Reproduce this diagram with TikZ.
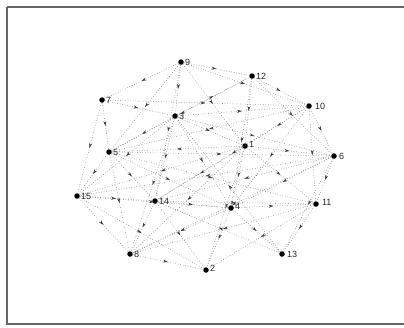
\documentclass[tikz,border=0pt]{standalone}
\usepackage{fontspec}
\setmainfont{Liberation Sans}
\usetikzlibrary{decorations.markings,arrows.meta}
\begin{document}
\begin{tikzpicture}[x=1pt,y=-1pt,
  vtx/.style={circle,fill=black,inner sep=0pt,minimum size=5.5pt},
  lbl/.style={font=\fontsize{9}{10}\selectfont,text=black!85,inner sep=1pt,anchor=west},
  edge/.style={draw=black!55,dotted,line width=0.55pt,
    postaction={decorate,decoration={markings,mark=at position 0.5 with {\arrow[black!75]{Stealth[length=5pt,width=3pt]}}}}}]
\useasboundingbox (0,0) rectangle (404,327);
\draw[black!60,line width=1.2pt] (7,7) -- (7,324) -- (404,324);
\draw[black!60,line width=1.2pt] (7,7) -- (404,7);
\node[vtx] (n9) at (181,62) {};
\node[vtx] (n12) at (252,76) {};
\node[vtx] (n7) at (102,100) {};
\node[vtx] (n10) at (309,106) {};
\node[vtx] (n3) at (175,116) {};
\node[vtx] (n1) at (245,146) {};
\node[vtx] (n5) at (109,152) {};
\node[vtx] (n6) at (334,156) {};
\node[vtx] (n15) at (77,196) {};
\node[vtx] (n14) at (155,201) {};
\node[vtx] (n4) at (231,208) {};
\node[vtx] (n11) at (316,204) {};
\node[vtx] (n8) at (130,254) {};
\node[vtx] (n13) at (282,254) {};
\node[vtx] (n2) at (206,270) {};
\node[lbl] (l9) at (n9.east) {9};
\node[lbl] (l12) at (n12.east) {12};
\node[lbl] (l7) at (n7.east) {7};
\node[lbl] (l10) at ([xshift=2pt]n10.east) {10};
\node[lbl] (l3) at (n3.east) {3};
\node[lbl] (l1) at ([yshift=2pt]n1.east) {1};
\node[lbl] (l5) at (n5.east) {5};
\node[lbl] (l6) at ([xshift=1pt]n6.east) {6};
\node[lbl] (l15) at (n15.east) {15};
\node[lbl] (l14) at (n14.east) {14};
\node[lbl] (l4) at ([yshift=2pt]n4.east) {4};
\node[lbl] (l11) at ([xshift=2pt,yshift=2pt]n11.east) {11};
\node[lbl] (l8) at (n8.east) {8};
\node[lbl] (l13) at ([xshift=1pt]n13.east) {13};
\node[lbl] (l2) at ([yshift=2pt]n2.east) {2};
\foreach \a/\b in {
  9/7, 9/3, 9/12, 9/10, 9/5, 9/14, 9/1,
  7/10, 7/5, 7/3, 7/15,
  3/10, 3/1, 3/6, 3/5, 3/14, 3/15, 3/4, 3/8, 3/12,
  12/1, 12/10, 12/6, 12/4, 12/5,
  10/1, 10/6, 10/11, 10/14, 10/5, 10/4,
  1/6, 1/5, 1/4, 1/8, 1/14, 1/15, 1/2, 1/11,
  5/6, 5/15, 5/8, 5/14, 5/4, 5/11,
  6/11, 6/4, 6/14, 6/15, 6/8, 6/13,
  15/14, 15/8, 15/2, 15/4,
  14/4, 14/11, 14/8, 14/2,
  4/11, 4/8, 4/2, 4/13,
  11/13, 11/8, 11/2,
  8/2, 13/14, 13/3}
  \path[edge] (n\a) -- (n\b);
\end{tikzpicture}
\end{document}
